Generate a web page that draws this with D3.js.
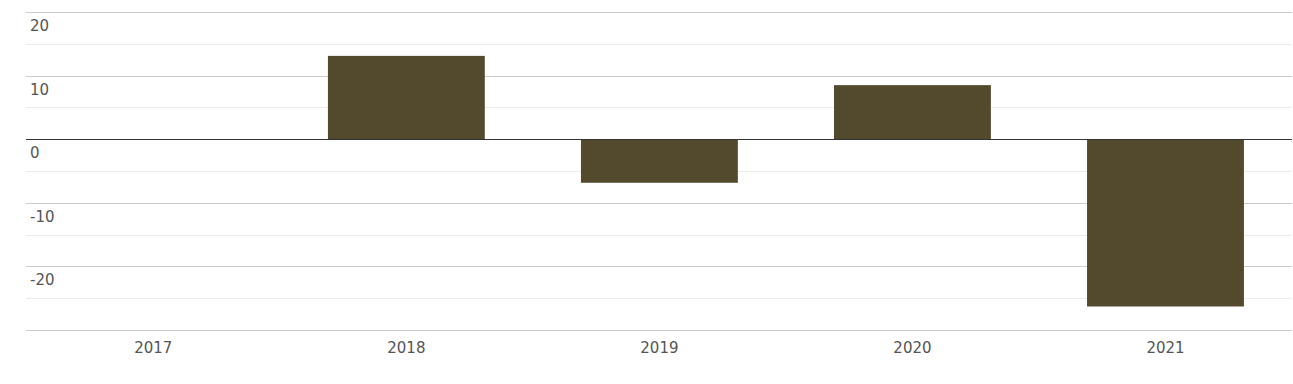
<!DOCTYPE html>
<html>
<head>
<meta charset="utf-8">
<script src="https://cdn.jsdelivr.net/npm/d3@7"></script>
<style>
  body { margin: 0; background: #fff; }
  svg { display: block; }
</style>
</head>
<body>
<div id="chart"></div>
<script>
const years = ['2017', '2018', '2019', '2020', '2021'];
const values = [null, 13.1, -6.85, 8.5, -26.3];
const majorTicks = [20, 10, 0, -10, -20, -30];
const minorTicks = [15, 5, -5, -15, -25];

const width = 1293;
const height = 384;
const margin = { top: 12, right: 1, bottom: 54, left: 26 };
const font = '"DejaVu Sans", sans-serif';

const svg = d3.select('#chart')
    .append('svg')
    .attr('width', width)
    .attr('height', height);

const x = d3.scaleBand()
    .domain(years)
    .range([margin.left + 0.8, width - margin.right])
    .paddingInner(0.38)
    .paddingOuter(0.19);

const y = d3.scaleLinear()
    .domain([-30, 20])
    .range([height - margin.bottom, margin.top]);

// minor grid
svg.append('g')
    .selectAll('line')
    .data(minorTicks)
    .join('line')
    .attr('x1', margin.left)
    .attr('x2', width - margin.right)
    .attr('y1', d => Math.round(y(d)) + 0.5)
    .attr('y2', d => Math.round(y(d)) + 0.5)
    .attr('stroke', '#ececec');

// major grid
svg.append('g')
    .selectAll('line')
    .data(majorTicks.filter(d => d !== 0))
    .join('line')
    .attr('x1', margin.left)
    .attr('x2', width - margin.right)
    .attr('y1', d => Math.round(y(d)) + 0.5)
    .attr('y2', d => Math.round(y(d)) + 0.5)
    .attr('stroke', '#cccccc');

// y labels
svg.append('g')
    .selectAll('text')
    .data(majorTicks.filter(d => d !== -30))
    .join('text')
    .attr('x', margin.left + 4)
    .attr('y', d => Math.round(y(d)) + 19)
    .attr('font-family', font)
    .attr('font-size', '15px')
    .attr('fill', '#555')
    .text(d => d);

// bars
const data = years.map((yr, i) => ({ year: yr, value: values[i] })).filter(d => d.value !== null);
svg.append('g')
    .selectAll('rect')
    .data(data)
    .join('rect')
    .attr('x', d => x(d.year))
    .attr('width', x.bandwidth())
    .attr('y', d => y(Math.max(0, d.value)))
    .attr('height', d => Math.abs(y(d.value) - y(0)))
    .attr('fill', '#534a2e');

// zero line
svg.append('line')
    .attr('x1', margin.left)
    .attr('x2', width - margin.right)
    .attr('y1', Math.round(y(0)) + 0.5)
    .attr('y2', Math.round(y(0)) + 0.5)
    .attr('stroke', '#333');

// x labels
svg.append('g')
    .selectAll('text')
    .data(years)
    .join('text')
    .attr('x', d => x(d) + x.bandwidth() / 2)
    .attr('y', height - margin.bottom + 23)
    .attr('text-anchor', 'middle')
    .attr('font-family', font)
    .attr('font-size', '15px')
    .attr('fill', '#555')
    .text(d => d);
</script>
</body>
</html>
